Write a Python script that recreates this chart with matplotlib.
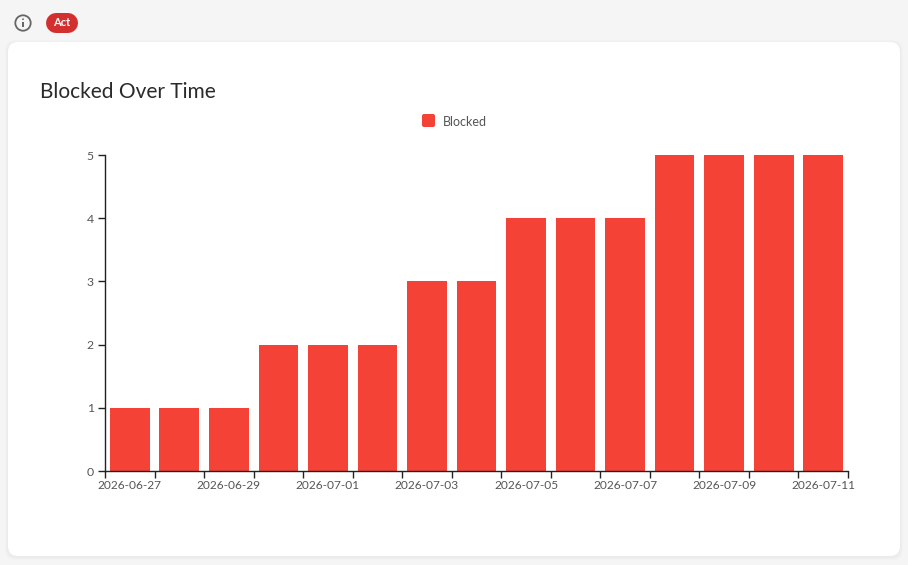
import matplotlib
matplotlib.use("Agg")
import matplotlib.pyplot as plt
from matplotlib.patches import FancyBboxPatch, Circle, Rectangle
import numpy as np

plt.rcParams['font.family'] = ['Lato', 'DejaVu Sans']

dates = ["2026-06-27", "2026-06-28", "2026-06-29", "2026-06-30", "2026-07-01",
         "2026-07-02", "2026-07-03", "2026-07-04", "2026-07-05", "2026-07-06",
         "2026-07-07", "2026-07-08", "2026-07-09", "2026-07-10", "2026-07-11"]
blocked = [1, 1, 1, 2, 2, 2, 3, 3, 4, 4, 4, 5, 5, 5, 5]

W, H = 908, 565
RED = "#f44336"
INK = "#222222"
LABEL = "#555555"

fig = plt.figure(figsize=(W / 100, H / 100), dpi=100, facecolor="#f5f5f5")

# Page chrome in pixel coordinates
bg = fig.add_axes([0, 0, 1, 1], zorder=0)
bg.axis("off")

for grow, alpha in [(3, 0.010), (2, 0.012), (1, 0.016)]:
    bg.add_patch(FancyBboxPatch((18 - grow, 53 - grow), 872 + 2 * grow, 494 + 2 * grow,
                                boxstyle="round,pad=10,rounding_size=10",
                                fc="black", ec="none", alpha=alpha))
bg.add_patch(FancyBboxPatch((18, 52), 872, 494, boxstyle="round,pad=10,rounding_size=10",
                            fc="white", ec="none"))

# Info icon
bg.add_patch(Circle((23, 23), 7.7, fc="none", ec="#666666", lw=1.3))
bg.add_patch(Rectangle((22.3, 22), 1.4, 5, fc="#666666", ec="none"))
bg.add_patch(Circle((23, 19.2), 0.9, fc="#666666", ec="none"))

# Status badge: a thick line with round caps gives a true pill
bg.plot([56, 68], [23, 23], color="#d32f2f", lw=20 * 0.72, solid_capstyle="round")
bg.set_xlim(0, W)
bg.set_ylim(H, 0)
bg.text(62, 22.8, "Act", color="white", fontsize=8, fontweight="bold", ha="center", va="center")

bg.text(40, 91.5, "Blocked Over Time", color="#2a2a2a", fontsize=15, ha="left", va="center")

# Legend entry
bg.add_patch(FancyBboxPatch((424, 116), 9, 9, boxstyle="round,pad=2,rounding_size=2", fc=RED, ec="none"))
bg.text(443, 122, "Blocked", color=LABEL, fontsize=9, ha="left", va="center")

# Bar chart
left, right, top, bottom = 105, 848, 155, 471
ax = fig.add_axes([left / W, 1 - bottom / H, (right - left) / W, (bottom - top) / H],
                  zorder=1, facecolor="none")
pos = np.arange(len(dates))
ax.bar(pos, blocked, width=0.8, color=RED, linewidth=0)
ax.set_xlim(-0.5, len(dates) - 0.5)
ax.set_ylim(0, 5)

for side in ("top", "right"):
    ax.spines[side].set_visible(False)
for side in ("left", "bottom"):
    ax.spines[side].set_color(INK)
    ax.spines[side].set_linewidth(1)

ax.set_yticks(range(6))
ax.tick_params(axis="y", length=5, width=1, color=INK, labelcolor=LABEL, labelsize=8.8, pad=3)

# Ticks mark band edges; labels sit at the centre of every other band
ax.set_xticks(np.arange(len(dates) + 1) - 0.5)
ax.set_xticklabels([])
ax.tick_params(axis="x", which="major", length=5, width=1, color=INK)
ax.set_xticks(pos[::2], minor=True)
ax.set_xticklabels(dates[::2], minor=True)
ax.tick_params(axis="x", which="minor", length=0, labelcolor=LABEL, labelsize=8.6, pad=6.5)

fig.savefig("out.png", dpi=100, facecolor=fig.get_facecolor())
